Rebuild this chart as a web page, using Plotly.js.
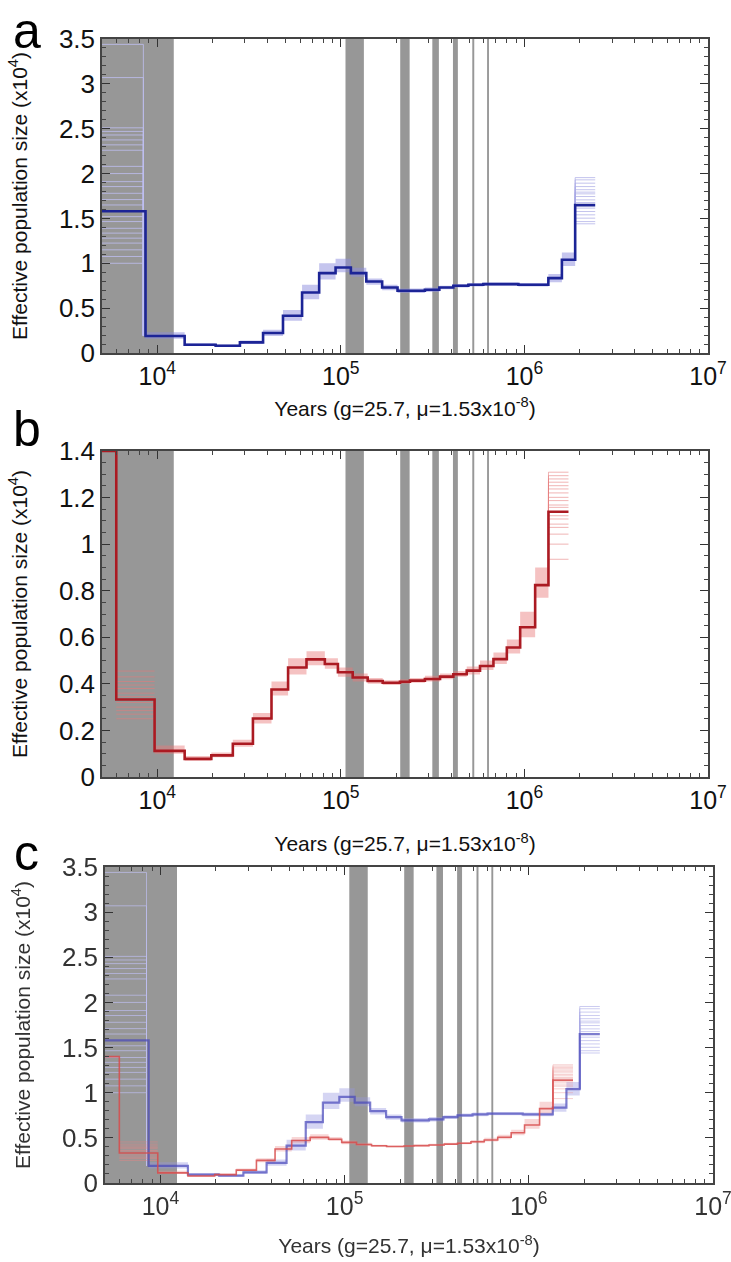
<!DOCTYPE html>
<html>
<head>
<meta charset="utf-8">
<script src="https://cdn.plot.ly/plotly-3.0.1.min.js"></script>
<style>
  html, body { margin:0; padding:0; background:#fff; }
  #wrap { position:relative; width:731px; height:1262px; overflow:hidden; }
  .pan { position:absolute; left:0; width:731px; }
  #pa { top:0; height:420px; }
  #pb { top:370px; height:490px; }
  #pc { top:820px; height:442px; filter: blur(0.7px); }
</style>
</head>
<body>
<div id="wrap">
  <div id="pa" class="pan"></div>
  <div id="pb" class="pan"></div>
  <div id="pc" class="pan"></div>
</div>
<script>
// ---------------- DATA ----------------
// Gray climate bands (years)
const bandStart = [5000, 106000, 210600, 315000, 408000, 520000, 626000];
const bandEnd   = [12300, 133500, 237000, 342000, 434000, 533000, 641000];

// Panel a (blue) - step start times and median Ne (x10^4)
const blueTimes = [5000, 8630, 14100, 20800, 28200, 37700, 48400, 61500, 76200, 93600, 113400, 137600,
                   167900, 203600, 287000, 344000, 410000, 495000, 597000, 927000, 1350000, 1600000, 1890000, 2430000];
const blueNe    = [1.58, 0.19, 0.092, 0.081, 0.118, 0.223, 0.415, 0.675, 0.89, 0.953, 0.89, 0.797,
                   0.73, 0.694, 0.705, 0.73, 0.75, 0.76, 0.768, 0.76, 0.835, 1.04, 1.648];
const blueLow   = [1.58, 0.16, 0.08, 0.07, 0.10, 0.19, 0.36, 0.60, 0.82, 0.90, 0.85, 0.76,
                   0.70, 0.67, 0.68, 0.71, 0.73, 0.74, 0.75, 0.74, 0.79, 0.97, 1.648];
const blueHigh  = [1.58, 0.23, 0.11, 0.095, 0.14, 0.26, 0.48, 0.76, 1.00, 1.05, 0.95, 0.83,
                   0.76, 0.72, 0.73, 0.75, 0.77, 0.78, 0.785, 0.78, 0.88, 1.12, 1.648];
const blueBootFirst = [3.44, 3.07, 2.51, 2.47, 2.43, 2.375, 2.32, 2.26, 2.08, 2.0, 1.91, 1.855, 1.78,
                       1.71, 1.65, 1.52, 1.465, 1.39, 1.336, 1.28, 1.225, 1.15, 1.076, 1.0];
const blueBootFirstEnd = 8400;
const blueBootLast = [1.955, 1.93, 1.893, 1.855, 1.82, 1.793, 1.774, 1.744, 1.707, 1.677, 1.615,
                      1.577, 1.54, 1.503, 1.465, 1.44];

// Panel b (red)
const redTimes = [5000, 5980, 9670, 14100, 19700, 25800, 33200, 41900, 51600, 65000, 81800, 96400, 116000,
                  140000, 169000, 210000, 238000, 287000, 347000, 410000, 485000, 573000, 678000, 802000,
                  948000, 1144000, 1352000, 1738000];
const redNe    = [1.4, 0.333, 0.112, 0.078, 0.093, 0.143, 0.251, 0.376, 0.47, 0.505, 0.485, 0.45, 0.427,
                  0.412, 0.405, 0.409, 0.414, 0.421, 0.431, 0.441, 0.457, 0.477, 0.506, 0.556, 0.643, 0.824, 1.139];
const redLow   = [1.4, 0.25, 0.10, 0.07, 0.085, 0.13, 0.23, 0.35, 0.44, 0.48, 0.465, 0.43, 0.41,
                  0.40, 0.395, 0.40, 0.405, 0.41, 0.42, 0.43, 0.44, 0.46, 0.485, 0.53, 0.60, 0.77, 1.139];
const redHigh  = [1.4, 0.46, 0.135, 0.09, 0.105, 0.16, 0.275, 0.41, 0.51, 0.54, 0.51, 0.47, 0.445,
                  0.425, 0.415, 0.42, 0.425, 0.435, 0.445, 0.455, 0.475, 0.50, 0.535, 0.59, 0.71, 0.90, 1.139];
const redBootFirst = [0.455, 0.43, 0.41, 0.395, 0.38, 0.36, 0.345, 0.32, 0.30, 0.285, 0.27, 0.25];
const redBootLast = [1.309, 1.294, 1.28, 1.266, 1.251, 1.237, 1.22, 1.201, 1.187, 1.168, 1.158, 1.122,
                     1.108, 1.086, 1.072, 1.043, 1.0, 0.935];

// Tick labels
const xTickVals = [1e4, 1e5, 1e6, 1e7];
const xTickText = ['10<sup>4</sup>', '10<sup>5</sup>', '10<sup>6</sup>', '10<sup>7</sup>'];
const xTitle = 'Years (g=25.7, μ=1.53x10<sup>-8</sup>)';
const yTitle = 'Effective population size (x10<sup>4</sup>)';
const panelLetters = ['a', 'b', 'c'];

// ---------------- HELPERS ----------------
const FONT = 'Arial, "Liberation Sans", Helvetica, sans-serif';
const minorX = [];
for (let d = 3; d <= 6; d++) for (let m = 2; m <= 9; m++) { const v = m * Math.pow(10, d); if (v > 5000 && v < 1e7) minorX.push(v); }

function stepY(v) { return v.concat([v[v.length - 1]]); }

function mainTrace(t, v, color, width) {
  return { type:'scatter', mode:'lines', x:t, y:stepY(v), line:{shape:'hv', color:color, width:width},
           hoverinfo:'skip', showlegend:false };
}
function bandTraces(t, lo, hi, fillcolor) {
  return [
    { type:'scatter', mode:'lines', x:t, y:stepY(lo), line:{shape:'hv', width:0, color:'rgba(0,0,0,0)'},
      hoverinfo:'skip', showlegend:false },
    { type:'scatter', mode:'lines', x:t, y:stepY(hi), line:{shape:'hv', width:0, color:'rgba(0,0,0,0)'},
      fill:'tonexty', fillcolor:fillcolor, hoverinfo:'skip', showlegend:false }
  ];
}
function bootSegTrace(vals, xs, xe, color) {
  const x = [], y = [];
  vals.forEach(v => { x.push(xs, xe, null); y.push(v, v, null); });
  return { type:'scatter', mode:'lines', x:x, y:y, line:{color:color, width:1}, hoverinfo:'skip', showlegend:false };
}
function bootFirstTrace(vals, xs, xe, toV, color) {
  const x = [], y = [];
  vals.forEach(v => { x.push(xs, xe, xe, null); y.push(v, v, toV, null); });
  return { type:'scatter', mode:'lines', x:x, y:y, line:{color:color, width:1}, hoverinfo:'skip', showlegend:false };
}
function bootLastTrace(vals, xs, xe, fromV, color) {
  const x = [], y = [];
  vals.forEach(v => { x.push(xs, xs, xe, null); y.push(fromV, v, v, null); });
  return { type:'scatter', mode:'lines', x:x, y:y, line:{color:color, width:1}, hoverinfo:'skip', showlegend:false };
}
function bandShapes() {
  return bandStart.map((s, i) => ({
    type:'rect', xref:'x', yref:'paper', x0:s, x1:bandEnd[i], y0:0, y1:1,
    fillcolor:'#979797', line:{width:0}, layer:'below'
  }));
}
function makeLayout(opts) {
  return {
    width:731, height:opts.height,
    margin:{l:opts.l, r:opts.r, t:opts.t, b:opts.b},
    paper_bgcolor:'rgba(0,0,0,0)', plot_bgcolor:'#fff',
    font:{family:FONT, color:'#111', size:20},
    showlegend:false,
    xaxis:{
      type:'log', range:[Math.log10(5000), 7], tickmode:'array', tickvals:xTickVals, ticktext:xTickText,
      ticks:'inside', ticklen:8, tickwidth:1, tickcolor:'#333', ticklabeloverflow:'allow',
      minor:{tickmode:'array', tickvals:minorX, ticks:'inside', ticklen:4, tickcolor:'#444', tickwidth:1, showgrid:false},
      showline:true, linecolor:'#444', linewidth:1.5, mirror:'ticks', showgrid:false, zeroline:false,
      tickfont:{family:FONT, size:25, color:opts.tcolor},
      title:{text:xTitle, font:{family:FONT, size:21, color:opts.tcolor}, standoff:opts.xstand},
      fixedrange:true
    },
    yaxis:{
      range:[0, opts.ymax], dtick:opts.dtick, tick0:0,
      ticks:'inside', ticklen:8, tickwidth:1, tickcolor:'#333',
      minor:{dtick:opts.minor, ticks:'inside', ticklen:4, tickcolor:'#444', tickwidth:1, showgrid:false},
      showline:true, linecolor:'#444', linewidth:1.5, mirror:'ticks', showgrid:false, zeroline:false,
      tickfont:{family:FONT, size:26, color:opts.tcolor},
      title:{text:yTitle, font:{family:FONT, size:21, color:opts.tcolor}, standoff:opts.ystand},
      fixedrange:true
    },
    shapes:bandShapes(),
    annotations:[{
      text:opts.letter, xref:'paper', yref:'paper', x:opts.lx, y:opts.ly, xanchor:'center', yanchor:opts.lanchor,
      showarrow:false, font:{family:FONT, size:50, color:'#000'}
    }]
  };
}
const cfg = {displayModeBar:false};

// ---------------- PANEL A ----------------
const nB = blueNe.length;
const tracesA = [
  ...bandTraces(blueTimes, blueLow, blueHigh, 'rgba(140,140,222,0.5)'),
  bootFirstTrace(blueBootFirst, blueTimes[0], blueBootFirstEnd, blueNe[1], 'rgba(190,190,240,0.8)'),
  bootLastTrace(blueBootLast, blueTimes[nB - 1], blueTimes[nB], blueNe[nB - 2], 'rgba(170,170,230,0.7)'),
  mainTrace(blueTimes, blueNe, '#1c2496', 2.6)
];
Plotly.newPlot('pa', tracesA, makeLayout({height:420, l:102, r:23, t:39, b:67, ymax:3.5, dtick:0.5, minor:0.1,
  xstand:14, ystand:26, tcolor:'#111', letter:panelLetters[0], lx:-0.1238, ly:1.121, lanchor:'top'}), cfg);

// ---------------- PANEL B ----------------
const nR = redNe.length;
const tracesB = [
  ...bandTraces(redTimes.slice(2), redLow.slice(2), redHigh.slice(2), 'rgba(232,120,120,0.45)'),
  bootSegTrace(redBootFirst, redTimes[1], redTimes[2], 'rgba(235,120,120,0.55)'),
  bootLastTrace(redBootLast, redTimes[nR - 1], redTimes[nR], redNe[nR - 2], 'rgba(230,130,130,0.6)'),
  mainTrace(redTimes, redNe, '#ab1a22', 2.6)
];
Plotly.newPlot('pb', tracesB, makeLayout({height:490, l:102, r:23, t:81, b:83, ymax:1.4, dtick:0.2, minor:0.05,
  xstand:24, ystand:26, tcolor:'#111', letter:panelLetters[1], lx:-0.1238, ly:1.0684, lanchor:'middle'}), cfg);

// ---------------- PANEL C ----------------
const tracesC = [
  ...bandTraces(blueTimes, blueLow, blueHigh, 'rgba(150,150,225,0.4)'),
  bootFirstTrace(blueBootFirst, blueTimes[0], blueBootFirstEnd, blueNe[1], 'rgba(190,190,240,0.7)'),
  bootLastTrace(blueBootLast, blueTimes[nB - 1], blueTimes[nB], blueNe[nB - 2], 'rgba(170,170,230,0.6)'),
  ...bandTraces(redTimes.slice(2), redLow.slice(2), redHigh.slice(2), 'rgba(235,140,140,0.35)'),
  bootSegTrace(redBootFirst, redTimes[1], redTimes[2], 'rgba(235,130,130,0.45)'),
  bootLastTrace(redBootLast, redTimes[nR - 1], redTimes[nR], redNe[nR - 2], 'rgba(235,150,150,0.45)'),
  mainTrace(blueTimes, blueNe, 'rgba(70,70,185,0.7)', 2.2),
  mainTrace(redTimes, redNe, 'rgba(215,75,75,0.85)', 1.6)
];
Plotly.newPlot('pc', tracesC, makeLayout({height:442, l:105, r:18, t:47, b:79, ymax:3.5, dtick:0.5, minor:0.1,
  xstand:20, ystand:26, tcolor:'#333', letter:panelLetters[2], lx:-0.1283, ly:1.045, lanchor:'middle'}), cfg);
</script>
</body>
</html>
